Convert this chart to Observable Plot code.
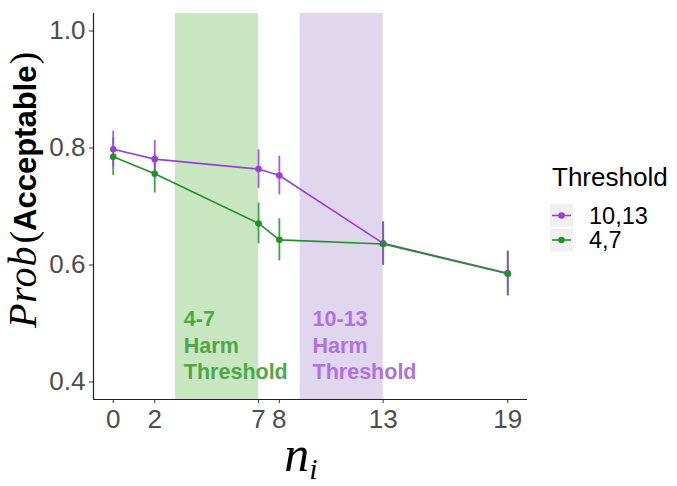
<!DOCTYPE html>
<html><head><meta charset="utf-8">
<script src="https://cdn.jsdelivr.net/npm/d3@7"></script>
<script src="https://cdn.jsdelivr.net/npm/@observablehq/plot@0.6"></script>
<style>body{margin:0;background:#fff}#chart{width:677px;height:486px}</style>
</head><body><div id="chart"></div>
<script>
// ---- data ----
const nValues = [0, 2, 7, 8, 13, 19];
const seriesNames = ["10,13", "4,7"];
const probHigh = [0.798, 0.781, 0.764, 0.753, 0.637, 0.586];   // Threshold 10,13
const errHigh  = [0.031, 0.032, 0.033, 0.033, 0.037, 0.038];
const probLow  = [0.785, 0.756, 0.671, 0.643, 0.636, 0.585];   // Threshold 4,7
const errLow   = [0.032, 0.033, 0.035, 0.036, 0.037, 0.038];
const xTicks = [0, 2, 7, 8, 13, 19];
const yTicks = [0.4, 0.6, 0.8, 1.0];
const bandStart = [3, 9];
const bandEnd = [7, 13];
const bandLabels = ["4-7\nHarm\nThreshold", "10-13\nHarm\nThreshold"];
const labelX = [3.4, 9.6];
const labelY = [0.527, 0.527];
const xDomain = [-0.95, 19.95];
const yDomain = [0.37, 1.03];

// ---- styles ----
const seriesColors = ["#9a3fd6", "#23902a"];
const bandFill = ["#c8e6c0", "#e0d6ee"];
const bandText = ["#4ea64a", "#ae72dd"];
const sans = "'Liberation Sans', Arial, Helvetica, sans-serif";
const serif = "'Liberation Serif', 'Times New Roman', serif";

const series = seriesNames.map((name, i) => {
  const p = i === 0 ? probHigh : probLow;
  const e = i === 0 ? errHigh : errLow;
  return nValues.map((n, j) => ({n, p: p[j], lo: p[j] - e[j], hi: p[j] + e[j], name}));
});
const bands = bandStart.map((s, i) => ({x1: s, x2: bandEnd[i], label: bandLabels[i], lx: labelX[i], ly: labelY[i]}));

const marks = [];
bands.forEach((b, i) => marks.push(Plot.rect([b], {x1: "x1", x2: "x2", fill: bandFill[i]})));
bands.forEach((b, i) => marks.push(Plot.text([b], {x: "lx", y: "ly", text: "label", textAnchor: "start", lineAnchor: "top",
  fontSize: 21.5, fontWeight: "bold", fill: bandText[i], lineHeight: 1.22, fontFamily: sans})));
// error bars
[1, 0].forEach(i => marks.push(Plot.ruleX(series[i], {x: "n", y1: "lo", y2: "hi", stroke: seriesColors[i], strokeWidth: 1.8, strokeOpacity: 0.85})));
// lines
[0, 1].forEach(i => marks.push(Plot.line(series[i], {x: "n", y: "p", stroke: seriesColors[i], strokeWidth: 1.6})));
// points
[0, 1].forEach(i => marks.push(Plot.dot(series[i], {x: "n", y: "p", fill: seriesColors[i], r: 3.3})));
// axes
marks.push(Plot.axisX(xTicks, {tickSize: 4, tickPadding: 6, fontSize: 26, fontFamily: sans, label: null, stroke: "#333", fill: "#4d4d4d"}));
marks.push(Plot.axisY(yTicks, {tickSize: 4, tickPadding: 4, fontSize: 26, fontFamily: sans, label: null, tickFormat: d3.format(".1f"), stroke: "#333", fill: "#4d4d4d"}));
marks.push(Plot.ruleX([xDomain[0]], {stroke: "#222", strokeWidth: 1.2}));
marks.push(Plot.ruleY([yDomain[0]], {stroke: "#222", strokeWidth: 1.2}));

const plot = Plot.plot({
  width: 677, height: 486,
  marginLeft: 93, marginRight: 150, marginTop: 13, marginBottom: 87,
  x: {domain: xDomain},
  y: {domain: yDomain},
  style: {fontFamily: sans, background: "white", overflow: "visible"},
  marks
});
document.getElementById("chart").appendChild(plot);

const svg = d3.select(plot);
// y title
const yt = svg.append("text").attr("transform", "translate(36,190) rotate(-90)").attr("text-anchor", "middle").attr("fill", "black");
yt.append("tspan").attr("font-family", serif).attr("font-style", "italic").attr("font-size", 40).attr("letter-spacing", 1).text("Prob");
yt.append("tspan").attr("font-family", serif).attr("font-size", 38).attr("dx", 2).text("(");
yt.append("tspan").attr("font-family", sans).attr("font-weight", "bold").attr("font-size", 31).text("Acceptable");
yt.append("tspan").attr("font-family", serif).attr("font-size", 38).attr("dx", 1).text(")");
// x title
const xt = svg.append("text").attr("x", 301).attr("y", 471).attr("text-anchor", "middle").attr("fill", "black");
xt.append("tspan").attr("font-family", serif).attr("font-style", "italic").attr("font-size", 50).text("n");
xt.append("tspan").attr("font-family", serif).attr("font-style", "italic").attr("font-size", 30).attr("dy", 8).text("i");
// legend
const lg = svg.append("g").attr("text-anchor", "start");
lg.append("text").attr("x", 552).attr("y", 186).attr("font-family", sans).attr("font-size", 26).attr("fill", "black").text("Threshold");
seriesNames.forEach((name, i) => {
  const y0 = 204 + i * 24.5;
  lg.append("rect").attr("x", 550).attr("y", y0).attr("width", 23).attr("height", 23).attr("fill", "#f0f0f0");
  lg.append("line").attr("x1", 552).attr("x2", 571).attr("y1", y0 + 11.5).attr("y2", y0 + 11.5).attr("stroke", seriesColors[i]).attr("stroke-width", 1.6);
  lg.append("circle").attr("cx", 561.5).attr("cy", y0 + 11.5).attr("r", 3.3).attr("fill", seriesColors[i]);
  lg.append("text").attr("x", 589).attr("y", y0 + 11.5).attr("dy", "0.36em").attr("font-family", sans).attr("font-size", 23.5).attr("fill", "black").text(name);
});
</script></body></html>
